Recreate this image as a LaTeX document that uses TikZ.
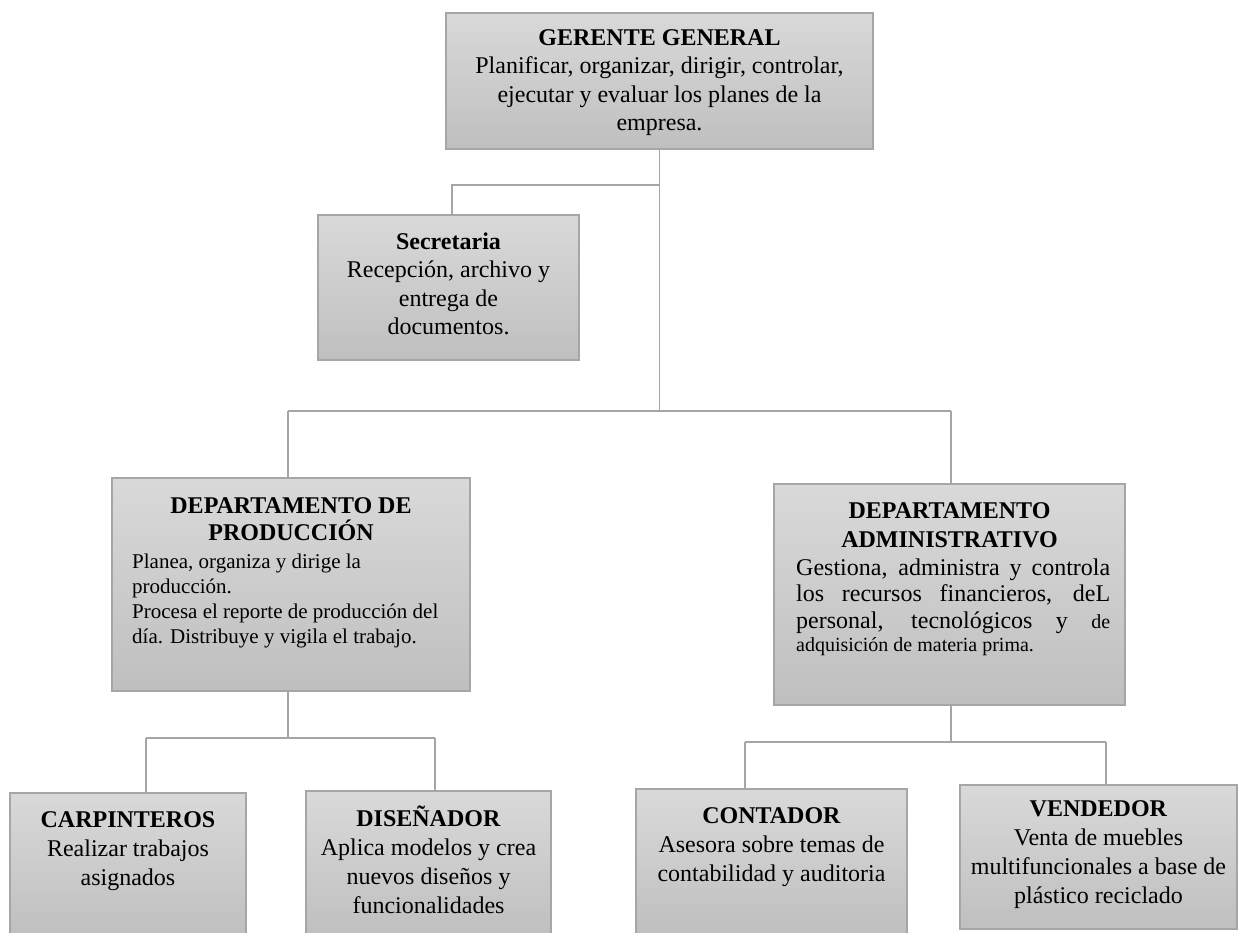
\documentclass[tikz,border=0pt]{standalone}
\usepackage{fontspec}
\setmainfont{Liberation Serif}
\definecolor{boxtop}{RGB}{217,217,217}
\definecolor{boxbot}{RGB}{191,191,191}
\definecolor{boxedge}{RGB}{166,166,166}
\definecolor{linecol}{RGB}{165,165,165}
\newcommand\mytop{\vrule height 24pt depth 0pt width 0pt\relax}
\tikzset{
  orgbox/.style={draw=boxedge, line width=1.3pt, top color=boxtop, bottom color=boxbot, inner sep=0pt},
  orgline/.style={draw=linecol, line width=1.4pt},
  bigtxt/.style={inner sep=0pt, anchor=north, align=center, font=\fontsize{24}{28.5}\selectfont},
  bottxt/.style={inner sep=0pt, anchor=north, align=center, font=\fontsize{24}{29}\selectfont},
}
\begin{document}
\begin{tikzpicture}[x=1pt,y=-1pt]
\useasboundingbox (0,0) rectangle (1244,932);

% boxes
\node[orgbox, minimum width=427pt, minimum height=136pt] (g) at (659.5,81) {};
\node[orgbox, minimum width=261pt, minimum height=145pt] (sec) at (448.5,287.5) {};
\node[orgbox, minimum width=358pt, minimum height=213pt] (prod) at (291,584.5) {};
\node[orgbox, minimum width=351pt, minimum height=221pt] (adm) at (949.5,594.5) {};
\node[orgbox, minimum width=236pt, minimum height=143pt] (carp) at (128,864.5) {};
\node[orgbox, minimum width=245pt, minimum height=145pt] (dis) at (428.5,863.5) {};
\node[orgbox, minimum width=271pt, minimum height=147pt] (cont) at (771.5,862.5) {};
\node[orgbox, minimum width=277pt, minimum height=144pt] (vend) at (1098.5,857) {};

% texts
\node[bigtxt] (gt) at (659.5,21) {\mytop\textbf{GERENTE GENERAL}\\Planificar, organizar, dirigir, controlar,\\ejecutar y evaluar los planes de la\\empresa.};
\node[bigtxt] (sect) at (448.5,225) {\mytop\textbf{Secretaria}\\Recepción, archivo y\\entrega de\\documentos.};
\node[bigtxt, font=\fontsize{24}{27}\selectfont] (prodt) at (291,489) {\mytop\textbf{DEPARTAMENTO DE}\\\textbf{PRODUCCIÓN}};
\node[inner sep=0pt, anchor=north west, align=left, font=\fontsize{21}{25}\selectfont] (prodb) at (132,544) {\mytop Planea, organiza y dirige la\\producción.\\Procesa el reporte de producción del\\día. Distribuye y vigila el trabajo.};
\node[bigtxt, font=\fontsize{24}{29}\selectfont] (admt) at (949.5,494) {\mytop\textbf{DEPARTAMENTO}\\\textbf{ADMINISTRATIVO}};
\node[inner sep=0pt, anchor=north west, text width=314pt, align=justify, font=\fontsize{24}{26.5}\selectfont] (admb) at (796,551) {\mytop Gestiona, administra y controla\linebreak los recursos financieros, deL\linebreak personal, tecnológicos y {\fontsize{20}{23}\selectfont de}\vspace{-3.5pt}\linebreak {\fontsize{20}{23}\selectfont adquisición de materia prima.}};
\node[bottxt] (carpt) at (128,803) {\mytop\textbf{CARPINTEROS}\\Realizar trabajos\\asignados};
\node[bottxt] (dist) at (428.5,802) {\mytop\textbf{DISEÑADOR}\\Aplica modelos y crea\\nuevos diseños y\\funcionalidades};
\node[bottxt] (contt) at (771.5,799) {\mytop\textbf{CONTADOR}\\Asesora sobre temas de\\contabilidad y auditoria};
\node[bottxt] (vendt) at (1098.5,792) {\mytop\textbf{VENDEDOR}\\Venta de muebles\\multifuncionales a base de\\plástico reciclado};

% connectors
\coordinate (gj) at (659.5,185);
\coordinate (busC) at (659.5,411);
\coordinate (busL) at (288,411);
\coordinate (busR) at (951,411);
\draw[orgline] (g.south) -- (busC);
\draw[orgline] (gj) -| ([xshift=3.5pt]sec.north);
\draw[orgline] (busL) -- (busR);
\draw[orgline] (busL) -- (busL |- prod.north);
\draw[orgline] (busR) -- (busR |- adm.north);

\coordinate (pj) at (288,738);
\coordinate (pl) at (146,738);
\coordinate (pr) at (435,738);
\draw[orgline] (pj |- prod.south) -- (pj);
\draw[orgline] (pl) -- (pr);
\draw[orgline] (pl) -- (pl |- carp.north);
\draw[orgline] (pr) -- (pr |- dis.north);

\coordinate (aj) at (951,742);
\coordinate (al) at (745,742);
\coordinate (ar) at (1106,742);
\draw[orgline] (aj |- adm.south) -- (aj);
\draw[orgline] (al) -- (ar);
\draw[orgline] (al) -- (al |- cont.north);
\draw[orgline] (ar) -- (ar |- vend.north);
\end{tikzpicture}
\end{document}
